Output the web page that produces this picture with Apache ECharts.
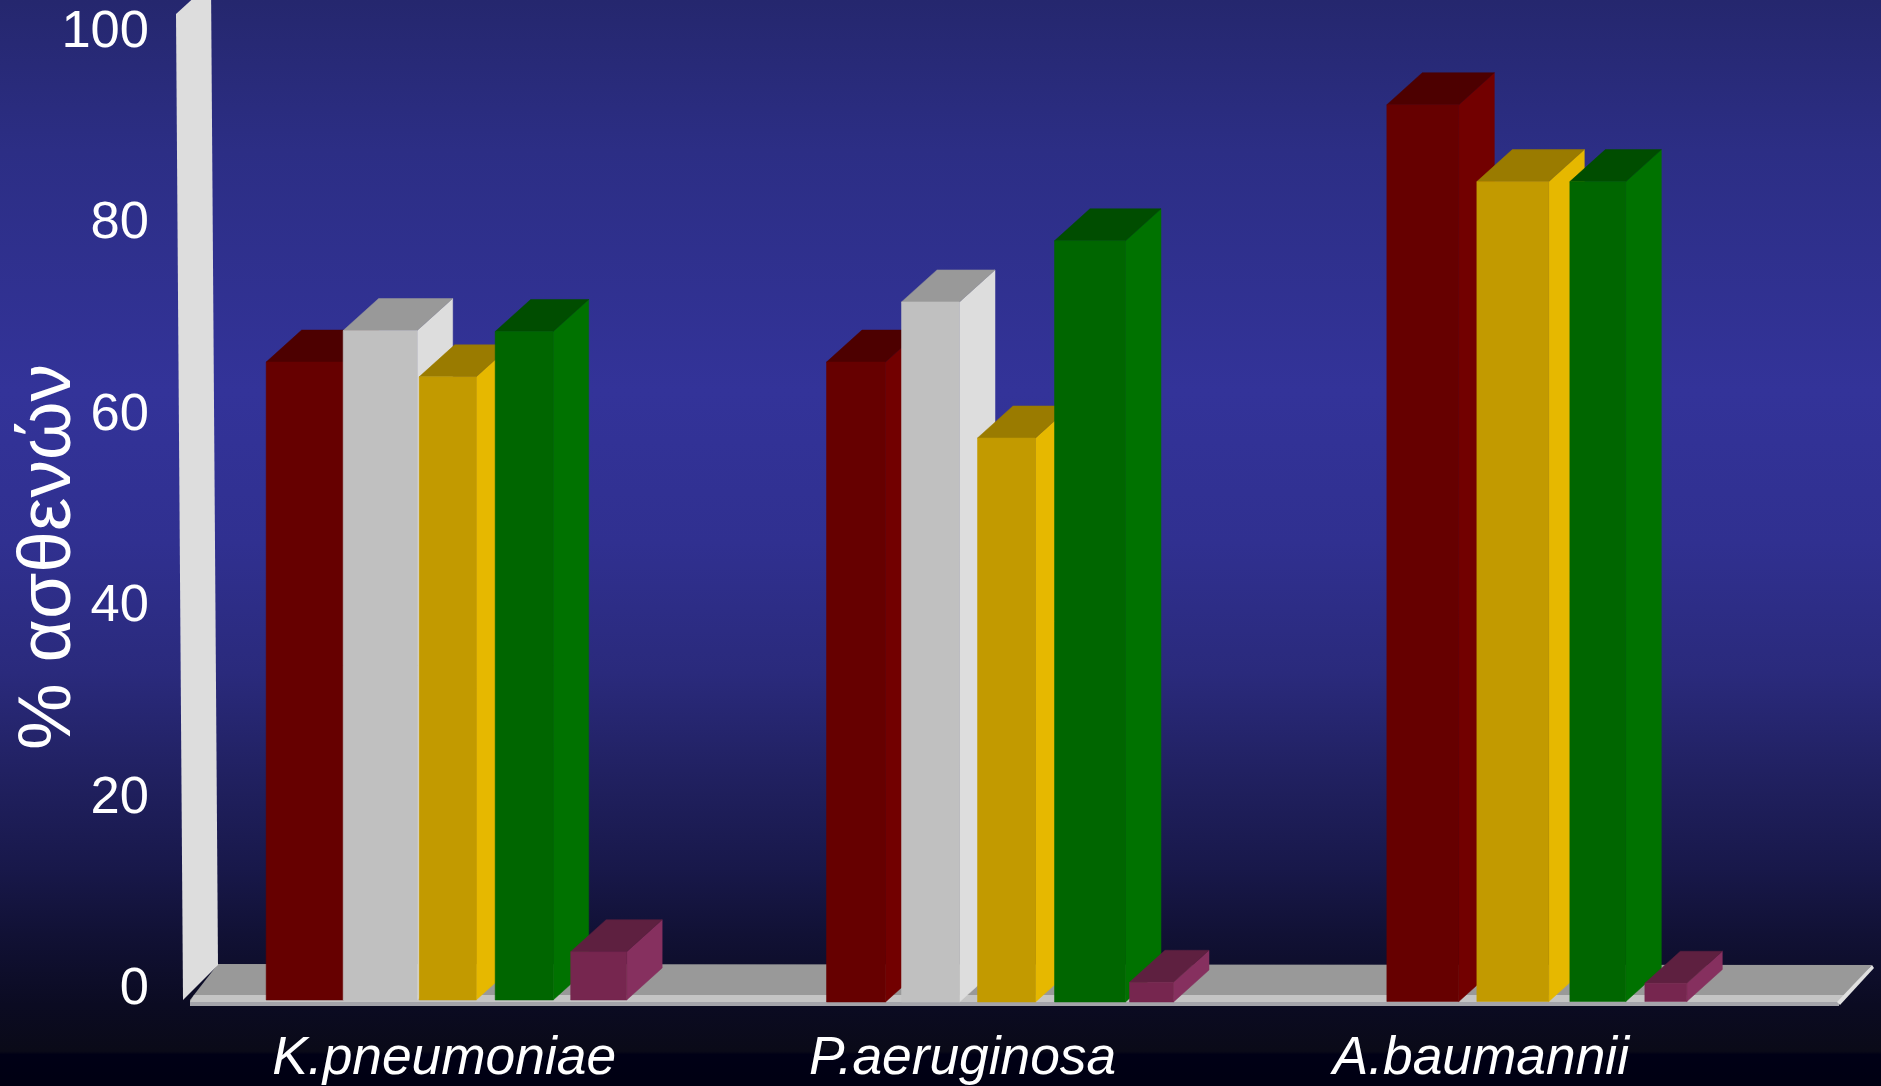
<!DOCTYPE html>
<html>
<head>
<meta charset="utf-8">
<title>% ασθενών</title>
<style>html,body{margin:0;padding:0;background:#000;}#chart{width:1881px;height:1086px;}</style>
<script src="https://cdn.jsdelivr.net/npm/echarts@6/dist/echarts.min.js"></script>
</head>
<body>
<div id="chart"></div>
<script>
// Chart content
const pathogens = ['K.pneumoniae', 'P.aeruginosa', 'A.baumannii'];
const yTicks = [0, 20, 40, 60, 80, 100];
const yTitle = '% ασθενών';
const redValues = [64.7, 64.7, 90.8];
const silverValues = [67.9, 70.8, null];
const goldValues = [63.2, 57.0, 83.0];
const greenValues = [67.8, 77.0, 83.0];
const plumValues = [4.9, 1.8, 1.7];

// Box shading: front, side, top
const redShades = ['#660000', '#720000', '#4d0000'];
const silverShades = ['#c0c0c0', '#dddddd', '#999999'];
const goldShades = ['#c29a00', '#e6b800', '#9a7b00'];
const greenShades = ['#006600', '#007200', '#004d00'];
const plumShades = ['#76264f', '#86305f', '#5e2040'];

// Depth of the extruded boxes, in pixels
const DEPTH_X = 35.5;
const DEPTH_Y = 32;
// Left edge and width of each box relative to the category centre, per group
const boxLeft = [
  [-200, -123, -47, 29, 104.5],
  [-200, -125, -49, 28, 103],
  [-200, null, -110, -17, 58]
];
const boxWidth = [
  [77, 74, 57, 58, 56],
  [59, 58, 58, 71, 44],
  [72, 0, 72, 56, 42]
];
// Perspective drop of each group's baseline below the axis zero, in pixels
const groupDrop = [0, 2, 1.5];

function makeBoxRenderer(slot, shades) {
  return function (params, api) {
    const value = api.value(1);
    if (value == null || isNaN(value)) return null;
    const group = api.value(0);
    const centre = api.coord([group, 0]);
    const top = api.coord([group, value])[1];
    const base = centre[1] + groupDrop[group];
    const x0 = centre[0] + boxLeft[group][slot];
    const x1 = x0 + boxWidth[group][slot];
    const face = (points, fill) => ({
      type: 'polygon',
      shape: { points },
      style: { fill, stroke: fill, lineWidth: 0.5 }
    });
    return {
      type: 'group',
      children: [
        face([[x1, top], [x1 + DEPTH_X, top - DEPTH_Y], [x1 + DEPTH_X, base - DEPTH_Y], [x1, base]], shades[1]),
        face([[x0, top], [x0 + DEPTH_X, top - DEPTH_Y], [x1 + DEPTH_X, top - DEPTH_Y], [x1, top]], shades[2]),
        face([[x0, top], [x1, top], [x1, base], [x0, base]], shades[0])
      ]
    };
  };
}

// Back wall and floor of the plot box, placed from the grid rectangle
function renderFrame(params) {
  const box = params.coordSys;
  const left = box.x, right = box.x + box.width;
  const top = box.y, base = box.y + box.height;
  const poly = (points, fill) => ({
    type: 'polygon',
    shape: { points },
    style: { fill }
  });
  return {
    type: 'group',
    children: [
      poly([[left + 4, base + 6], [right - 28, base + 6], [right - 28, base + 2], [left + 4, base + 2]], '#a4a4aa'),
      poly([[left + 4, base], [left + 32, base - 36], [right + 5, base - 35], [right - 28, base + 2], [left + 4, base + 2]], '#999999'),
      poly([[left + 8, base - 5], [right - 22, base - 5], [right - 28, base + 2], [left + 4, base + 2]], '#c4c4c4'),
      poly([[right - 27, base + 5], [right + 7, base - 32], [right + 5, base - 35], [right - 30, base + 2]], '#e0e0e0'),
      poly([[left - 10, top], [left + 25, top - 32], [left + 32, base - 35], [left - 3, base]], '#dddddd')
    ]
  };
}

function rows(values) {
  return values.map((v, i) => [i, v]);
}

function boxSeries(name, values, slot, shades) {
  return {
    name,
    type: 'custom',
    xAxisIndex: 1,
    yAxisIndex: 1,
    clip: false,
    renderItem: makeBoxRenderer(slot, shades),
    encode: { x: 0, y: 1 },
    data: rows(values)
  };
}

const labelColor = '#ffffff';
const labelFont = 'Liberation Sans, Arial, sans-serif';

const chart = echarts.init(document.getElementById('chart'), null, { renderer: 'canvas' });
chart.setOption({
  animation: false,
  backgroundColor: {
    type: 'linear', x: 0, y: 0, x2: 0, y2: 1,
    colorStops: [
      { offset: 0, color: '#25276e' },
      { offset: 0.14, color: '#2c2e85' },
      { offset: 0.36, color: '#333399' },
      { offset: 0.5, color: '#303090' },
      { offset: 0.62, color: '#2a2a7c' },
      { offset: 0.72, color: '#20205f' },
      { offset: 0.8, color: '#18184a' },
      { offset: 0.86, color: '#111135' },
      { offset: 0.925, color: '#0b0b22' },
      { offset: 0.968, color: '#0a0a18' },
      { offset: 0.971, color: '#000016' },
      { offset: 1, color: '#000012' }
    ]
  },
  grid: [
    { left: 185, top: 32.5, width: 1555, height: 959 },
    { left: 186, top: 14, width: 1681, height: 986 }
  ],
  xAxis: [
    {
      gridIndex: 0,
      type: 'category',
      data: pathogens,
      axisLine: { show: false },
      axisTick: { show: false },
      axisLabel: {
        interval: 0,
        margin: 43,
        color: labelColor,
        fontFamily: labelFont,
        fontStyle: 'italic',
        fontSize: 53.3
      }
    },
    {
      gridIndex: 1,
      type: 'category',
      data: pathogens,
      show: false
    }
  ],
  yAxis: [
    {
      gridIndex: 0,
      type: 'value',
      min: yTicks[0],
      max: yTicks[yTicks.length - 1],
      interval: yTicks[1] - yTicks[0],
      axisLine: { show: false },
      axisTick: { show: false },
      splitLine: { show: false },
      axisLabel: {
        margin: 36,
        color: labelColor,
        fontFamily: labelFont,
        fontSize: 52.5
      }
    },
    {
      gridIndex: 1,
      type: 'value',
      min: 0,
      max: 100,
      show: false,
      splitLine: { show: false }
    }
  ],
  graphic: [
    {
      type: 'text',
      x: 49,
      y: 557,
      rotation: Math.PI / 2,
      style: {
        text: yTitle,
        fill: labelColor,
        font: '75px ' + labelFont,
        textAlign: 'center',
        textVerticalAlign: 'middle'
      }
    }
  ],
  series: [
    {
      type: 'custom',
      xAxisIndex: 1,
      yAxisIndex: 1,
      clip: false,
      renderItem: renderFrame,
      data: [[0, 0]],
      z: 1
    },
    boxSeries('red', redValues, 0, redShades),
    boxSeries('silver', silverValues, 1, silverShades),
    boxSeries('gold', goldValues, 2, goldShades),
    boxSeries('green', greenValues, 3, greenShades),
    boxSeries('plum', plumValues, 4, plumShades)
  ]
});
</script>
</body>
</html>
